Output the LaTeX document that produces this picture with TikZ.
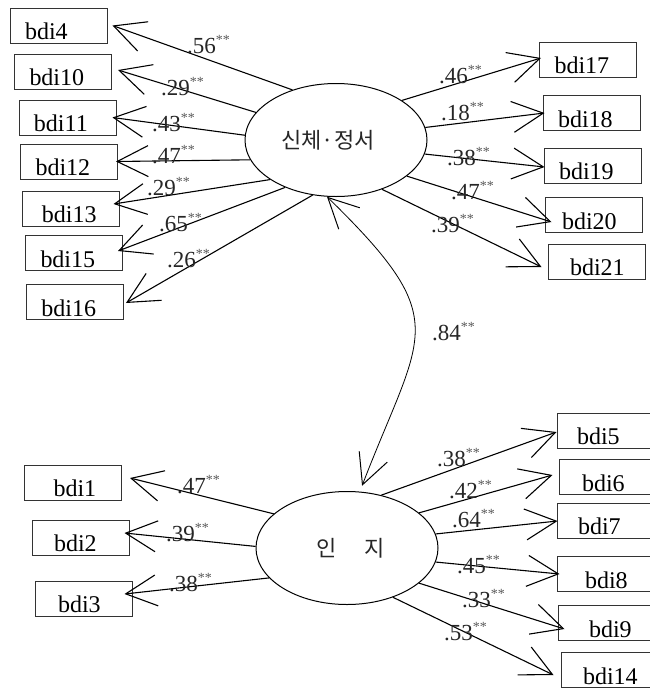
\documentclass[tikz,border=0pt]{standalone}
\usepackage{fontspec}
\setmainfont{Liberation Serif}
\newfontfamily\krfont{Noto Sans CJK KR}
\usetikzlibrary{arrows.meta,shapes.geometric}
\newcommand{\coef}[1]{#1\raisebox{9pt}{\fontsize{14}{14}\selectfont\color{black!65}**}}
\begin{document}
\begin{tikzpicture}[x=1pt,y=-1pt,
  box/.style={draw=black!80, line width=1pt, rectangle, minimum width=97pt, minimum height=35pt,
    inner xsep=15pt, inner ysep=1pt, text width=67pt, align=left, text height=30.5pt, text depth=2.5pt,
    font=\fontsize{24}{24}\selectfont},
  lat/.style={draw, ellipse, line width=1pt, minimum width=182pt, minimum height=113pt, inner sep=0pt,
    font=\krfont\fontsize{22}{22}\selectfont, text=black!85},
  pth/.style={line width=1.1pt, -{Straight Barb[length=31pt,width=31pt,line width=1.1pt]}},
  cor/.style={line width=0.8pt, {Straight Barb[length=30pt,width=30pt,line width=1pt]}-{Straight Barb[length=30pt,width=30pt,line width=1pt]}},
  cf/.style={anchor=base west, inner sep=0pt, font=\fontsize{23}{23}\selectfont, text=black!85}
]
\useasboundingbox (0,0) rectangle (649,689);

% latent variables
\node[lat] (E1) at (336,140) {신체·정서\hspace*{16pt}};
\node[lat] (E2) at (347,548) {\hspace*{8pt}인\hspace{28pt}지};

% boxes: top-left
\node[box] (bdi4)  at (58.5,25.5)  {bdi4};
\node[box] (bdi10) at (63,71.5)    {bdi10};
\node[box] (bdi11) at (67.5,117.5) {bdi11};
\node[box] (bdi12) at (69,161.5)   {bdi12};
\node[box] (bdi13) at (70.5,208.5) {\hspace*{5pt}bdi13};
\node[box] (bdi15) at (74,253)     {bdi15};
\node[box] (bdi16) at (75,302)     {bdi16};
% top-right
\node[box] (bdi17) at (588,59.5)    {bdi17};
\node[box] (bdi18) at (591.5,113)   {bdi18};
\node[box] (bdi19) at (592.5,165.5) {bdi19};
\node[box] (bdi20) at (593.5,215)   {\hspace*{2pt}bdi20};
\node[box] (bdi21) at (596.5,261.5) {\hspace*{7pt}bdi21};
% bottom-left
\node[box] (bdi1) at (73,482.5)   {\hspace*{14pt}bdi1};
\node[box] (bdi2) at (80.5,537.5) {\hspace*{7pt}bdi2};
\node[box] (bdi3) at (83.5,598.5) {\hspace*{8pt}bdi3};
% bottom-right
\node[box] (bdi5)  at (605.5,430.5) {\hspace*{5pt}bdi5};
\node[box] (bdi6)  at (607.5,477)   {\hspace*{8pt}bdi6};
\node[box] (bdi7)  at (605.5,520.5) {\hspace*{6pt}bdi7};
\node[box] (bdi8)  at (605.5,574)   {\hspace*{13pt}bdi8};
\node[box] (bdi9)  at (606.5,623)   {\hspace*{16pt}bdi9};
\node[box] (bdi14) at (609.5,670)   {\hspace*{7pt}bdi14};

% paths from E1
\draw[pth] (E1.131) -- ([shift={(5,0)}]bdi4.east);
\draw[pth] (E1.161) -- ([shift={(6,-1.5)}]bdi10.east);
\draw[pth] (E1.177) -- ([shift={(-4,0)}]bdi11.east);
\draw[pth] (E1.193) -- ([shift={(-2,0)}]bdi12.east);
\draw[pth] (E1.211) -- ([shift={(-6,-4.5)}]bdi13.east);
\draw[pth] (E1.223) -- ([shift={(-5,-2)}]bdi15.east);
\draw[pth] (E1.247) -- ([shift={(2,1)}]bdi16.east);
\draw[pth] (E1.31)  -- ([shift={(2,-1.5)}]bdi17.west);
\draw[pth] (E1.8)   -- ([shift={(2,0)}]bdi18.west);
\draw[pth] (E1.-9)  -- ([shift={(1,1.5)}]bdi19.west);
\draw[pth] (E1.-27) -- ([shift={(7,7)}]bdi20.west);
\draw[pth] (E1.-47) -- ([shift={(-6,5.5)}]bdi21.west);

% paths from E2
\draw[pth] (E2.155) -- ([shift={(8,-4.5)}]bdi1.east);
\draw[pth] (E2.179) -- ([shift={(-5,-4.5)}]bdi2.east);
\draw[pth] (E2.201) -- ([shift={(-8,-4.5)}]bdi3.east);
\draw[pth] (E2.57)  -- ([shift={(0,1.5)}]bdi5.west);
\draw[pth] (E2.26)  -- ([shift={(-6,-2)}]bdi6.west);
\draw[pth] (E2.9)   -- ([shift={(1,0.5)}]bdi7.west);
\draw[pth] (E2.-9)  -- ([shift={(3,0)}]bdi8.west);
\draw[pth] (E2.-26) -- ([shift={(7,6)}]bdi9.west);
\draw[pth] (E2.-47) -- ([shift={(-7,5)}]bdi14.west);

% correlation
\draw[cor] (E1.261) .. controls (455,322) and (422,330) .. ([yshift=6pt]E2.75);

% coefficients
\node[cf] (c4)  at (187,53)  {\coef{.56}};
\node[cf] (c10) at (161,95)  {\coef{.29}};
\node[cf] (c11) at (152,131) {\coef{.43}};
\node[cf] (c12) at (152,163) {\coef{.47}};
\node[cf] (c13) at (147,195) {\coef{.29}};
\node[cf] (c15) at (159,231) {\coef{.65}};
\node[cf] (c16) at (167,267) {\coef{.26}};
\node[cf] (c17) at (439,83)  {\coef{.46}};
\node[cf] (c18) at (441,120) {\coef{.18}};
\node[cf] (c19) at (447,165) {\coef{.38}};
\node[cf] (c20) at (451,199) {\coef{.47}};
\node[cf] (c21) at (431,232) {\coef{.39}};
\node[cf] (c1)  at (177,493) {\coef{.47}};
\node[cf] (c2)  at (166,541) {\coef{.39}};
\node[cf] (c3)  at (169,591) {\coef{.38}};
\node[cf] (c5)  at (437,466) {\coef{.38}};
\node[cf] (c6)  at (449,498) {\coef{.42}};
\node[cf] (c7)  at (452,527) {\coef{.64}};
\node[cf] (c8)  at (457,573) {\coef{.45}};
\node[cf] (c9)  at (462,607) {\coef{.33}};
\node[cf] (c14) at (444,640) {\coef{.53}};
\node[cf] (c84) at (432,340) {\coef{.84}};
\end{tikzpicture}
\end{document}
